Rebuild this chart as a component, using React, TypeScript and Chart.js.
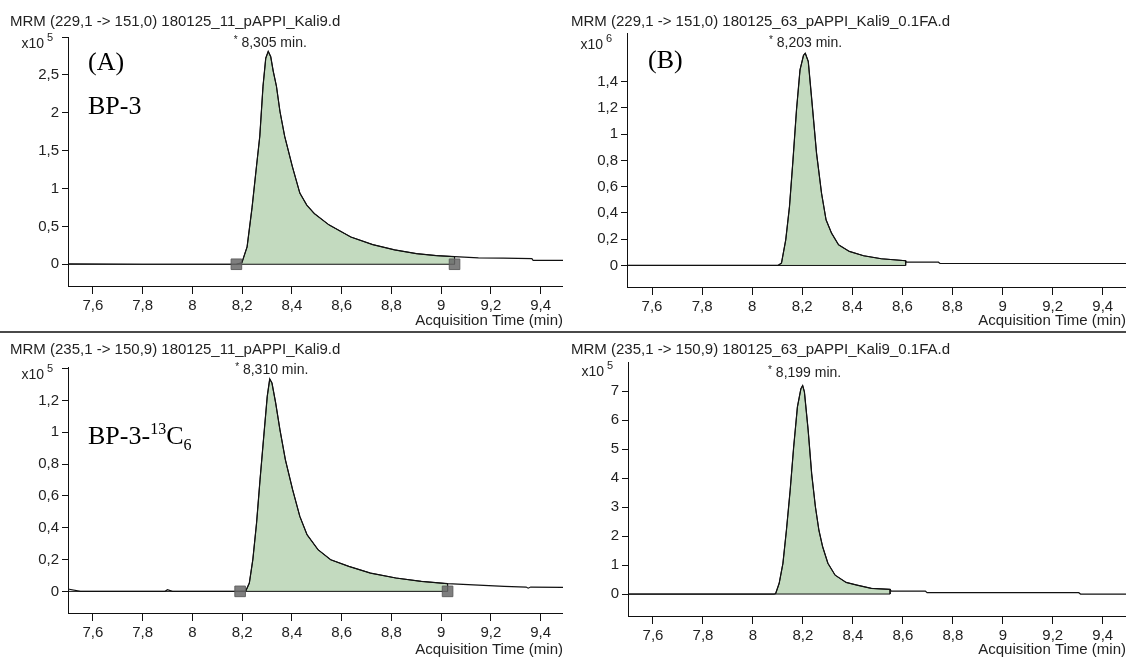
import React, { useEffect, useRef } from 'react';
import { Chart, registerables } from 'chart.js';

Chart.register(...registerables);

const SANS = '"Liberation Sans", Arial, Helvetica, sans-serif';
const SERIF = '"Liberation Serif", "Times New Roman", Times, serif';

// ---------- shared axis ticks ----------
const xTickValues = [7.6, 7.8, 8, 8.2, 8.4, 8.6, 8.8, 9, 9.2, 9.4];
const xAxisTitle = 'Acquisition Time (min)';

// ---------- Panel A : MRM 229,1 -> 151,0, sample 11 (x10^5) ----------
const titleA = 'MRM (229,1 -> 151,0) 180125_11_pAPPI_Kali9.d';
const timeA = [7.5, 7.8, 8.0, 8.177, 8.199, 8.22, 8.24, 8.258, 8.271, 8.284, 8.295, 8.305, 8.315, 8.325, 8.338, 8.352, 8.371, 8.402, 8.432, 8.46, 8.49, 8.549, 8.637, 8.725, 8.813, 8.901, 8.98, 9.054, 9.15, 9.25, 9.365, 9.37, 9.49];
const signalA = [0.005, 0, 0, 0, 0.02, 0.23, 0.75, 1.3, 1.69, 2.35, 2.72, 2.81, 2.74, 2.55, 2.35, 2.02, 1.69, 1.29, 0.94, 0.78, 0.67, 0.52, 0.36, 0.26, 0.19, 0.14, 0.115, 0.1, 0.085, 0.08, 0.075, 0.05, 0.05];
const integrationA = [8.177, 9.054];
const yTicksA = [0, 0.5, 1, 1.5, 2, 2.5];
const peakA = { time: 8.305, label: '8,305 min.' };

// ---------- Panel B : MRM 229,1 -> 151,0, sample 63 (x10^6) ----------
const titleB = 'MRM (229,1 -> 151,0) 180125_63_pAPPI_Kali9_0.1FA.d';
const timeB = [7.5, 8.103, 8.117, 8.134, 8.149, 8.163, 8.177, 8.191, 8.205, 8.212, 8.224, 8.238, 8.257, 8.277, 8.295, 8.317, 8.345, 8.388, 8.445, 8.516, 8.613, 8.616, 8.744, 8.75, 9.493];
const signalB = [0, 0, 0.018, 0.195, 0.449, 0.804, 1.185, 1.489, 1.6, 1.616, 1.553, 1.261, 0.855, 0.55, 0.348, 0.246, 0.157, 0.107, 0.074, 0.051, 0.036, 0.025, 0.025, 0.015, 0.015];
const integrationB = [8.103, 8.613];
const yTicksB = [0, 0.2, 0.4, 0.6, 0.8, 1, 1.2, 1.4];
const peakB = { time: 8.205, label: '8,203 min.' };

// ---------- Panel C : MRM 235,1 -> 150,9, sample 11 (x10^5) ----------
const titleC = 'MRM (235,1 -> 150,9) 180125_11_pAPPI_Kali9.d';
const timeC = [7.5, 7.55, 7.89, 7.9, 7.92, 8.192, 8.214, 8.229, 8.243, 8.258, 8.272, 8.287, 8.301, 8.311, 8.32, 8.335, 8.352, 8.374, 8.403, 8.432, 8.461, 8.505, 8.556, 8.629, 8.716, 8.818, 8.92, 9.026, 9.109, 9.254, 9.342, 9.35, 9.36, 9.49];
const signalC = [0.015, 0, 0, 0.01, 0, 0, 0, 0.052, 0.199, 0.429, 0.701, 0.974, 1.225, 1.335, 1.309, 1.183, 1.016, 0.827, 0.639, 0.471, 0.356, 0.262, 0.199, 0.157, 0.115, 0.084, 0.063, 0.048, 0.042, 0.031, 0.027, 0.02, 0.027, 0.025];
const integrationC = [8.192, 9.026];
const yTicksC = [0, 0.2, 0.4, 0.6, 0.8, 1, 1.2];
const peakC = { time: 8.311, label: '8,310 min.' };

// ---------- Panel D : MRM 235,1 -> 150,9, sample 63 (x10^5) ----------
const titleD = 'MRM (235,1 -> 150,9) 180125_63_pAPPI_Kali9_0.1FA.d';
const timeD = [7.5, 8.085, 8.091, 8.105, 8.12, 8.134, 8.149, 8.163, 8.178, 8.192, 8.199, 8.206, 8.221, 8.235, 8.25, 8.264, 8.279, 8.3, 8.329, 8.373, 8.416, 8.474, 8.549, 8.553, 8.69, 8.697, 9.304, 9.311, 9.493];
const signalD = [0, 0, 0.02, 0.37, 1.06, 2.2, 3.58, 5.07, 6.45, 7.08, 7.19, 6.97, 5.65, 4.15, 3.01, 2.2, 1.63, 1.06, 0.65, 0.4, 0.31, 0.195, 0.16, 0.1, 0.1, 0.046, 0.046, 0, 0];
const integrationD = [8.091, 8.549];
const yTicksD = [0, 1, 2, 3, 4, 5, 6, 7];
const peakD = { time: 8.199, label: '8,199 min.' };

function fmt(v: number): string {
  return String(Math.round(v * 100) / 100).replace('.', ',');
}

const panelTextPlugin = {
  id: 'panelText',
  afterDraw(chart: any, _args: any, opts: any) {
    const ctx = chart.ctx;
    ctx.save();
    ctx.fillStyle = '#222';
    ctx.textBaseline = 'middle';
    ctx.textAlign = 'left';
    ctx.font = `15px ${SANS}`;
    ctx.fillText(opts.title, opts.titleX, opts.titleY);
    // exponent label
    ctx.textAlign = 'right';
    ctx.font = `14px ${SANS}`;
    ctx.fillText('x10', opts.expRight, opts.expY);
    ctx.textAlign = 'left';
    ctx.font = `11px ${SANS}`;
    ctx.fillText(opts.exp, opts.expRight + 3, opts.expY - 6);
    // peak label
    const px = chart.scales.x.getPixelForValue(opts.peakTime);
    ctx.font = `14px ${SANS}`;
    const w = ctx.measureText(' ' + opts.peakLabel).width;
    ctx.font = `10px ${SANS}`;
    const ws = ctx.measureText('*').width;
    const start = px - (w + ws) / 2 + 2;
    ctx.fillText('*', start, opts.peakY - 3);
    ctx.font = `14px ${SANS}`;
    ctx.fillText(' ' + opts.peakLabel, start + ws, opts.peakY);
    ctx.restore();
  },
};

type PanelCfg = {
  time: number[];
  signal: number[];
  integration: number[];
  markers: boolean;
  yTicks: number[];
  topTick: number | null;
  yMin: number;
  yMax: number;
  xMin: number;
  xMax: number;
  areaLeft: number;
  areaTop: number;
  areaBottom: number;
  width: number;
  height: number;
  title: string;
  titleX: number;
  titleY: number;
  exp: string;
  expRight: number;
  expY: number;
  peak: { time: number; label: string };
  peakY: number;
};

function PanelChart({ cfg, left, top }: { cfg: PanelCfg; left: number; top: number }) {
  const ref = useRef<HTMLCanvasElement | null>(null);
  useEffect(() => {
    if (!ref.current) return;
    const pts = cfg.time.map((t, i) => ({ x: t, y: cfg.signal[i] }));
    const [fs, fe] = cfg.integration;
    const fillPts = pts.filter((p) => p.x >= fs - 1e-9 && p.x <= fe + 1e-9);
    fillPts.push({ x: fe, y: 0 });
    const tickList = cfg.topTick !== null ? [...cfg.yTicks, cfg.topTick] : cfg.yTicks;
    const datasets: any[] = [];
    if (cfg.markers) {
      datasets.push({
        data: [{ x: fs, y: 0 }, { x: fe, y: 0 }],
        showLine: false,
        pointStyle: 'rect',
        pointRadius: 7.5,
        pointBackgroundColor: 'rgba(105,105,105,0.85)',
        pointBorderColor: 'rgba(90,90,90,0.9)',
        pointBorderWidth: 1,
        clip: false,
      });
    }
    datasets.push({
      data: [{ x: cfg.xMin, y: 0 }, { x: fe, y: 0 }],
      borderColor: '#111',
      borderWidth: 1,
      pointRadius: 0,
      fill: false,
    });
    datasets.push({
      data: pts,
      borderColor: '#111',
      borderWidth: 1.2,
      pointRadius: 0,
      tension: 0,
      fill: false,
    });
    datasets.push({
      data: fillPts,
      borderColor: '#111',
      borderWidth: 1,
      backgroundColor: '#c3dabf',
      pointRadius: 0,
      tension: 0,
      fill: 'origin',
    });
    const tickFont = { size: 15, family: SANS };
    const chart = new Chart(ref.current, {
      type: 'line',
      data: { datasets },
      plugins: [panelTextPlugin as any],
      options: {
        animation: false,
        responsive: false,
        devicePixelRatio: 1,
        events: [],
        layout: { autoPadding: false, padding: { top: cfg.areaTop, left: 0, right: 0, bottom: 0 } },
        plugins: {
          legend: { display: false },
          tooltip: { enabled: false },
          panelText: {
            title: cfg.title,
            titleX: cfg.titleX,
            titleY: cfg.titleY,
            exp: cfg.exp,
            expRight: cfg.expRight,
            expY: cfg.expY,
            peakTime: cfg.peak.time,
            peakLabel: cfg.peak.label,
            peakY: cfg.peakY,
          },
        } as any,
        scales: {
          x: {
            type: 'linear',
            min: cfg.xMin,
            max: cfg.xMax,
            afterBuildTicks: (s: any) => {
              s.ticks = xTickValues.map((v) => ({ value: v }));
            },
            afterFit: (s: any) => {
              s.height = cfg.height - cfg.areaBottom;
              s.paddingLeft = 0;
              s.paddingRight = 0;
            },
            ticks: {
              autoSkip: false,
              maxRotation: 0,
              padding: 3,
              color: '#222',
              font: tickFont,
              callback: (v: any) => fmt(Number(v)),
            },
            grid: { display: true, drawOnChartArea: false, drawTicks: true, tickLength: 8, color: '#111', lineWidth: 1 },
            border: { display: true, color: '#111', width: 1 },
            title: { display: true, text: xAxisTitle, align: 'end', padding: 0, color: '#222', font: tickFont },
          },
          y: {
            type: 'linear',
            min: cfg.yMin,
            max: cfg.yMax,
            afterBuildTicks: (s: any) => {
              s.ticks = tickList.map((v) => ({ value: v }));
            },
            afterFit: (s: any) => {
              s.width = cfg.areaLeft;
              s.paddingTop = 0;
              s.paddingBottom = 0;
            },
            ticks: {
              autoSkip: false,
              padding: 3,
              color: '#222',
              font: tickFont,
              callback: (v: any) => (cfg.topTick !== null && Math.abs(Number(v) - cfg.topTick) < 1e-9 ? '' : fmt(Number(v))),
            },
            grid: { display: true, drawOnChartArea: false, drawTicks: true, tickLength: 6, color: '#111', lineWidth: 1 },
            border: { display: true, color: '#111', width: 1 },
          },
        },
      } as any,
    });
    return () => chart.destroy();
  }, []);
  return (
    <canvas
      ref={ref}
      width={cfg.width}
      height={cfg.height}
      style={{ position: 'absolute', left, top, width: cfg.width, height: cfg.height }}
    />
  );
}

const cfgA: PanelCfg = {
  time: timeA, signal: signalA, integration: integrationA, markers: true,
  yTicks: yTicksA, topTick: 3, yMin: -0.287, yMax: 3.0, xMin: 7.5, xMax: 9.49,
  areaLeft: 68, areaTop: 37, areaBottom: 286, width: 563, height: 330,
  title: titleA, titleX: 10, titleY: 22, exp: '5', expRight: 44, expY: 44,
  peak: peakA, peakY: 43,
};
const cfgB: PanelCfg = {
  time: timeB, signal: signalB, integration: integrationB, markers: false,
  yTicks: yTicksB, topTick: null, yMin: -0.164, yMax: 1.77, xMin: 7.5, xMax: 9.493,
  areaLeft: 64, areaTop: 33, areaBottom: 287, width: 563, height: 330,
  title: titleB, titleX: 8, titleY: 22, exp: '6', expRight: 40, expY: 45,
  peak: peakB, peakY: 43,
};
const cfgC: PanelCfg = {
  time: timeC, signal: signalC, integration: integrationC, markers: true,
  yTicks: yTicksC, topTick: 1.4, yMin: -0.136, yMax: 1.41, xMin: 7.5, xMax: 9.49,
  areaLeft: 68, areaTop: 37, areaBottom: 283, width: 563, height: 329,
  title: titleC, titleX: 10, titleY: 20, exp: '5', expRight: 44, expY: 45,
  peak: peakC, peakY: 40,
};
const cfgD: PanelCfg = {
  time: timeD, signal: signalD, integration: integrationD, markers: false,
  yTicks: yTicksD, topTick: null, yMin: -0.757, yMax: 8.0, xMin: 7.5, xMax: 9.493,
  areaLeft: 65, areaTop: 32, areaBottom: 286, width: 563, height: 329,
  title: titleD, titleX: 8, titleY: 20, exp: '5', expRight: 41, expY: 42,
  peak: peakD, peakY: 43,
};

const serifLabel: React.CSSProperties = {
  position: 'absolute',
  fontFamily: SERIF,
  fontSize: 26,
  lineHeight: '30px',
  color: '#000',
  whiteSpace: 'nowrap',
};

export default function App() {
  useEffect(() => {
    document.body.style.margin = '0';
  }, []);
  return (
    <div style={{ position: 'relative', width: 1126, height: 659, background: '#fff', overflow: 'hidden' }}>
      <PanelChart cfg={cfgA} left={0} top={0} />
      <PanelChart cfg={cfgB} left={563} top={0} />
      <PanelChart cfg={cfgC} left={0} top={330} />
      <PanelChart cfg={cfgD} left={563} top={330} />
      <div style={{ position: 'absolute', left: 0, top: 331, width: 1126, height: 2, background: '#4a4a4a' }} />
      <div style={{ ...serifLabel, left: 88, top: 47 }}>(A)</div>
      <div style={{ ...serifLabel, left: 88, top: 91 }}>BP-3</div>
      <div style={{ ...serifLabel, left: 648, top: 45 }}>(B)</div>
      <div style={{ ...serifLabel, left: 88, top: 421 }}>
        BP-3-<span style={{ fontSize: 16, position: 'relative', top: -10 }}>13</span>C
        <span style={{ fontSize: 16, position: 'relative', top: 6 }}>6</span>
      </div>
    </div>
  );
}
